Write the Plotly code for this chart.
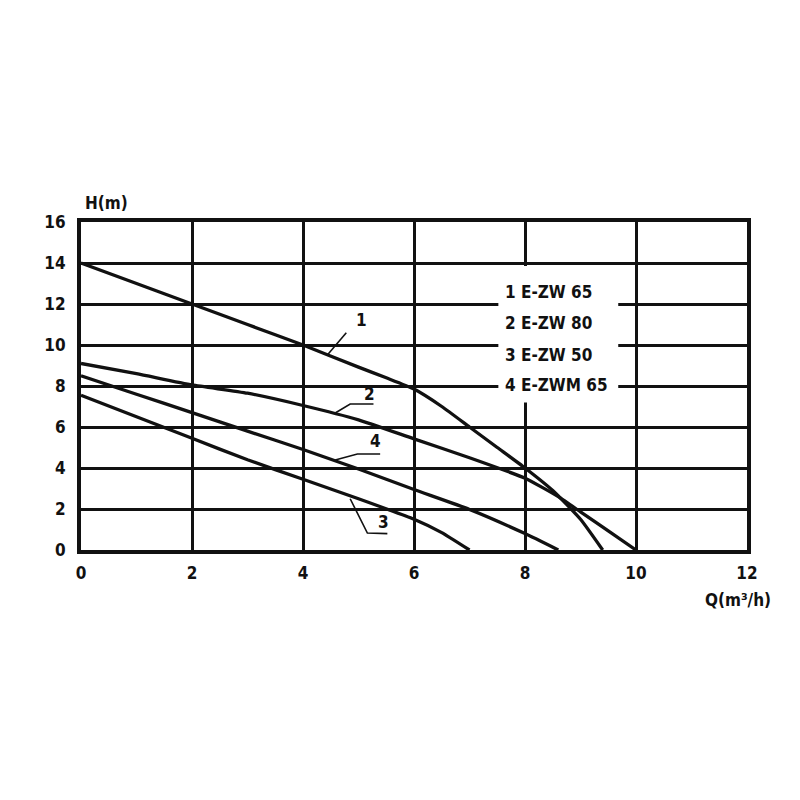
import plotly.graph_objects as go

# ---- data ----
Q1 = [0, 1, 2, 3, 4, 5, 5.5, 6, 6.5, 7, 7.5, 8, 8.5, 9, 9.4]
H1 = [14, 13, 12, 11, 10, 8.92, 8.4, 7.85, 7.0, 6.0, 5.0, 4.0, 2.9, 1.5, 0]

Q2 = [0, 1, 2, 3, 4, 5, 6, 7, 8, 8.6, 9, 9.5, 10]
H2 = [9.1, 8.6, 8.05, 7.65, 7.05, 6.35, 5.42, 4.5, 3.5, 2.6, 1.86, 0.93, 0]

Q3 = [0, 1, 2, 3, 4, 5, 6, 6.5, 7]
H3 = [7.55, 6.5, 5.45, 4.4, 3.45, 2.5, 1.5, 0.85, 0]

Q4 = [0, 1, 2, 3, 4, 5, 6, 7, 8, 8.6]
H4 = [8.5, 7.6, 6.7, 5.8, 4.9, 3.95, 2.95, 1.98, 0.8, 0]

x_ticks = [0, 2, 4, 6, 8, 10, 12]
y_ticks = [0, 2, 4, 6, 8, 10, 12, 14, 16]

legend_lines = ["1 E-ZW 65", "2 E-ZW 80", "3 E-ZW 50", "4 E-ZWM 65"]
curve_labels = ["1", "2", "3", "4"]

# leader lines for curve labels
leader_x = [[4.45, 4.78], [4.58, 4.85, 5.27], [4.85, 5.16, 5.52], [4.58, 4.98, 5.39]]
leader_y = [[9.55, 10.6], [6.68, 7.12, 7.12], [2.5, 0.83, 0.8], [4.39, 4.68, 4.68]]
label_pos = [(5.05, 11.2), (5.2, 7.6), (5.45, 1.35), (5.3, 5.3)]

FONT = "DejaVu Sans Condensed, DejaVu Sans, sans-serif"

fig = go.Figure()
for q, h in [(Q1, H1), (Q2, H2), (Q3, H3), (Q4, H4)]:
    fig.add_trace(go.Scatter(x=q, y=h, mode="lines",
                             line=dict(color="#111", width=3.3, shape="spline", smoothing=0.5),
                             showlegend=False, hoverinfo="skip"))

for lx, ly in zip(leader_x, leader_y):
    fig.add_trace(go.Scatter(x=lx, y=ly, mode="lines",
                             line=dict(color="#111", width=1.6),
                             showlegend=False, hoverinfo="skip"))

for txt, (px, py) in zip(curve_labels, label_pos):
    fig.add_annotation(x=px, y=py, text=txt, showarrow=False,
                       font=dict(family=FONT, size=17, color="#111", weight="bold"))

# white box behind legend text (interrupts grid)
fig.add_shape(type="rect", x0=7.52, x1=9.68, y0=7.2, y1=13.85,
              fillcolor="white", line=dict(width=0), layer="between")

legend_y = [12.6, 11.07, 9.5, 8.05]
for txt, yy in zip(legend_lines, legend_y):
    fig.add_annotation(x=7.6, y=yy, text=txt, showarrow=False, xanchor="left",
                       font=dict(family=FONT, size=17, color="#111", weight="bold"))

# axis titles (paper coordinates)
fig.add_annotation(xref="paper", yref="paper", x=0.039, y=1.058, text="H(m)",
                   showarrow=False, xanchor="center", yanchor="middle",
                   font=dict(family=FONT, size=17, color="#111", weight="bold"))
fig.add_annotation(xref="paper", yref="paper", x=0.986, y=-0.152, text="Q(m³/h)",
                   showarrow=False, xanchor="center", yanchor="middle",
                   font=dict(family=FONT, size=17, color="#111", weight="bold"))

axis_common = dict(showgrid=True, gridcolor="#111", gridwidth=3,
                   showline=True, linecolor="#111", linewidth=4, mirror=True,
                   zeroline=False, ticks="",
                   tickfont=dict(family=FONT, size=17, color="#111", weight="bold"))

fig.update_xaxes(range=[0, 12], tickvals=x_ticks, ticktext=[str(v) for v in x_ticks],
                 ticklabelstandoff=5, **axis_common)
fig.update_yaxes(range=[0, 16], tickvals=y_ticks, ticktext=[str(v) for v in y_ticks],
                 ticklabelstandoff=8, **axis_common)

fig.update_layout(width=800, height=800,
                  margin=dict(l=73, r=61, t=214, b=258),
                  paper_bgcolor="white", plot_bgcolor="white",
                  showlegend=False)

fig.write_html("out.html")
